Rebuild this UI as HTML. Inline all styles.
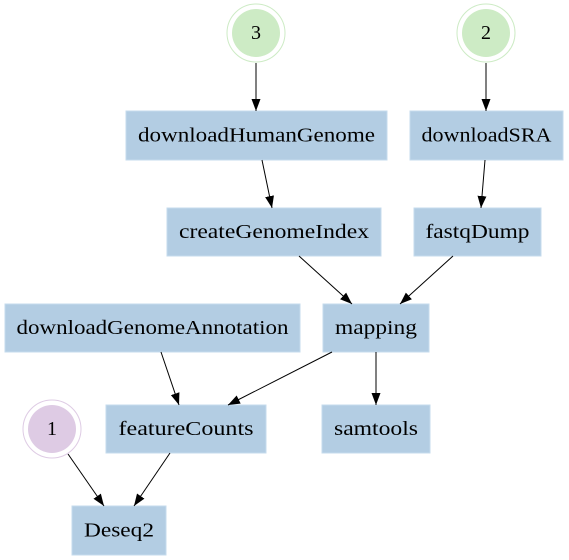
<!DOCTYPE html>
<html><head><meta charset="utf-8"><style>
html,body{margin:0;padding:0;background:#fff;}
svg{display:block;}
text{font-family:"Liberation Serif",serif;font-size:20px;fill:#000;text-anchor:middle;dominant-baseline:central;}
</style></head><body>
<svg width="569" height="560" viewBox="0 0 569 560" xmlns="http://www.w3.org/2000/svg">
<defs>
<marker id="a" markerUnits="userSpaceOnUse" markerWidth="14" markerHeight="12" refX="12" refY="4.5" orient="auto">
<polygon points="0,0 12,4.5 0,9" fill="#000"/>
</marker>
</defs>
<g fill="#b3cde3" stroke="#c6dbec" stroke-width="1">
<rect x="126" y="111" width="261" height="49"/>
<rect x="410" y="111" width="153" height="49"/>
<rect x="167" y="208" width="214" height="48"/>
<rect x="414" y="208" width="127" height="48"/>
<rect x="5" y="304" width="295" height="48"/>
<rect x="323" y="304" width="106" height="48"/>
<rect x="106" y="405" width="160" height="48"/>
<rect x="322" y="405" width="108" height="48"/>
<rect x="72" y="506" width="94" height="49"/>
</g>
<circle cx="256" cy="33" r="29" fill="none" stroke="#cdebc5"/>
<circle cx="256" cy="33" r="24" fill="#cdebc5"/>
<circle cx="486" cy="33" r="29" fill="none" stroke="#cdebc5"/>
<circle cx="486" cy="33" r="24" fill="#cdebc5"/>
<circle cx="52" cy="429" r="29" fill="none" stroke="#decbe4"/>
<circle cx="52" cy="429" r="24" fill="#decbe4"/>
<g stroke="#000" stroke-width="1" marker-end="url(#a)">
<line x1="256" y1="63" x2="256" y2="111"/>
<line x1="486" y1="63" x2="486" y2="111"/>
<line x1="262" y1="160" x2="272" y2="208"/>
<line x1="485" y1="160" x2="481" y2="208"/>
<line x1="299" y1="256" x2="352" y2="304"/>
<line x1="453" y1="256" x2="400" y2="304"/>
<line x1="161" y1="352" x2="179" y2="405"/>
<line x1="332" y1="352" x2="228" y2="405"/>
<line x1="376" y1="352" x2="376" y2="405"/>
<line x1="68" y1="454" x2="104" y2="506"/>
<line x1="170" y1="453" x2="134" y2="506"/>
</g>
<text x="256" y="33">3</text>
<text x="486" y="33">2</text>
<text x="52" y="429">1</text>
<text x="256.5" y="135.5" textLength="237" lengthAdjust="spacingAndGlyphs">downloadHumanGenome</text>
<text x="486.5" y="135.5" textLength="130" lengthAdjust="spacingAndGlyphs">downloadSRA</text>
<text x="274" y="232" textLength="190" lengthAdjust="spacingAndGlyphs">createGenomeIndex</text>
<text x="477.5" y="232" textLength="104" lengthAdjust="spacingAndGlyphs">fastqDump</text>
<text x="152.5" y="328" textLength="272" lengthAdjust="spacingAndGlyphs">downloadGenomeAnnotation</text>
<text x="376" y="328" textLength="82" lengthAdjust="spacingAndGlyphs">mapping</text>
<text x="186" y="429" textLength="135" lengthAdjust="spacingAndGlyphs">featureCounts</text>
<text x="376" y="429" textLength="84" lengthAdjust="spacingAndGlyphs">samtools</text>
<text x="119" y="530.5" textLength="70" lengthAdjust="spacingAndGlyphs">Deseq2</text>
</svg>
</body></html>
